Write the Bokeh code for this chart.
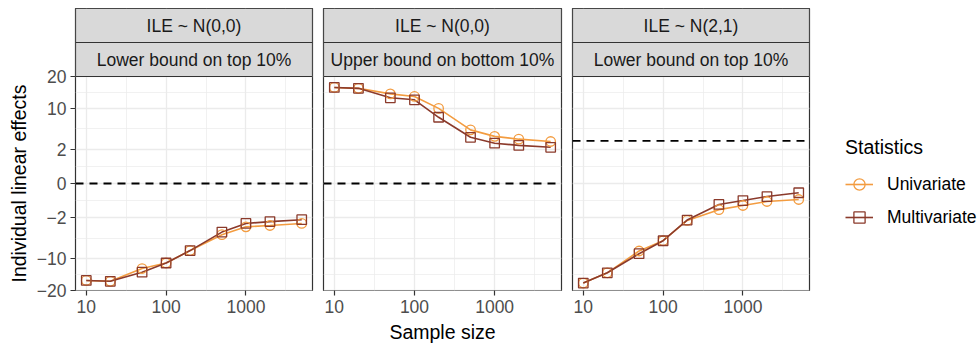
import numpy as np
from bokeh.plotting import figure
from bokeh.layouts import row
from bokeh.models import (Range1d, FixedTicker, CustomJSTickFormatter, Span, Legend,
                          LegendItem, NumeralTickFormatter, BoxAnnotation, Label)
from bokeh.embed import file_html
from bokeh.resources import INLINE

# ---------------- data ----------------
sample_size = [10, 20, 50, 100, 200, 500, 1000, 2000, 5000]

strip_top = ["ILE ~ N(0,0)", "ILE ~ N(0,0)", "ILE ~ N(2,1)"]
strip_bottom = ["Lower bound on top 10%", "Upper bound on bottom 10%", "Lower bound on top 10%"]

uni_panel1 = [-16.5, -16.8, -12.7, -11.1, -7.9, -4.6, -3.3, -3.1, -2.8]
multi_panel1 = [-16.5, -16.8, -13.8, -11.1, -7.9, -4.15, -2.8, -2.55, -2.3]

uni_panel2 = [16.2, 15.9, 14.1, 13.3, 9.9, 5.05, 3.9, 3.45, 3.1]
multi_panel2 = [16.2, 15.9, 12.9, 12.3, 7.7, 3.75, 2.85, 2.55, 2.3]

uni_panel3 = [-17.4, -14.0, -8.0, -5.75, -2.4, -1.2, -0.85, -0.57, -0.45]
multi_panel3 = [-17.4, -14.0, -8.65, -5.75, -2.35, -0.77, -0.51, -0.3, -0.15]

true_value = [0.0, 0.0, 3.2]

series_names = ["Univariate", "Multivariate"]
y_tick_values = [-20, -10, -2, 0, 2, 10, 20]
x_tick_values = [10, 100, 1000]
y_limit = 20.1

uni = [uni_panel1, uni_panel2, uni_panel3]
multi = [multi_panel1, multi_panel2, multi_panel3]

# ---------------- helpers ----------------
def ssqrt(v):
    v = np.asarray(v, dtype=float)
    return np.sign(v) * np.sqrt(np.abs(v))

FONT = "Liberation Sans"
UNI_COL = "#F39C40"
MULTI_COL = "#8B3A2B"
GRID = "#EBEBEB"
DARK = "#333333"

H = 346
TOP = 8           # canvas top to strip top
STRIP_H = 34      # each strip
PANEL_H = 214     # plotting area height
BOTTOM = H - TOP - 2 * STRIP_H - PANEL_H

lx = np.log10(sample_size)
pad = 0.05 * (lx.max() - lx.min())
x_lo, x_hi = 10 ** (lx.min() - pad), 10 ** (lx.max() + pad)
x_mid = 10 ** ((lx.min() + lx.max()) / 2)
y_lim_t = float(np.sqrt(y_limit))
px_per_unit = PANEL_H / (2 * y_lim_t)
strip_u = STRIP_H / px_per_unit
y_top = y_lim_t + 2 * strip_u

yt = ssqrt(y_tick_values)
y_major = [float(v) for v in yt]
y_minor = [float((a + b) / 2) for a, b in zip(yt[:-1], yt[1:])]
x_minor = [10 ** (np.log10(t) + 0.5) for t in x_tick_values]

TITLE_W = 30
ML = [45, 6, 6]
MR = [5, 5, 5]
FRAME_W = [237, 238, 237]
W = [ML[i] + FRAME_W[i] + MR[i] for i in range(3)]
LEG_W = 979 - TITLE_W - sum(W)

figs = []

# y axis title as its own narrow figure (frames are aligned across the row)
tf = figure(width=TITLE_W, height=H, x_range=Range1d(0, TITLE_W),
            y_range=Range1d(-y_lim_t, y_top),
            min_border=0, min_border_top=TOP, min_border_bottom=BOTTOM,
            x_axis_location=None, y_axis_location=None,
            toolbar_location=None, output_backend="svg", outline_line_color=None)
tf.xgrid.visible = False
tf.ygrid.visible = False
tf.add_layout(Label(x=18, y=0, text="Individual linear effects",
                    angle=np.pi / 2, text_align="center", text_baseline="middle",
                    text_font=FONT, text_font_size="19.5px", text_color="black"))
figs.append(tf)

for i in range(3):
    p = figure(width=W[i], height=H, x_axis_type="log",
               x_range=Range1d(x_lo, x_hi), y_range=Range1d(-y_lim_t, y_top),
               min_border_left=ML[i], min_border_right=MR[i], min_border_top=TOP,
               min_border_bottom=BOTTOM, y_axis_location="left" if i == 0 else None,
               toolbar_location=None, output_backend="svg",
               background_fill_color="white", border_fill_color="white",
               outline_line_color=DARK, outline_line_width=1.2)

    p.xgrid.ticker = FixedTicker(ticks=x_tick_values, minor_ticks=x_minor)
    p.ygrid.ticker = FixedTicker(ticks=y_major, minor_ticks=y_minor)
    for g in (p.xgrid, p.ygrid):
        g.grid_line_color = GRID
        g.grid_line_width = 1.3
        g.minor_grid_line_color = GRID
        g.minor_grid_line_width = 0.7

    xa = p.xaxis[0]
    xa.ticker = FixedTicker(ticks=x_tick_values, minor_ticks=x_minor)
    xa.formatter = NumeralTickFormatter(format="0")
    axes = [xa]
    if i == 0:
        ya = p.yaxis[0]
        ya.ticker = FixedTicker(ticks=y_major, minor_ticks=y_minor)
        ya.formatter = CustomJSTickFormatter(code="""
            const v = Math.round(tick * tick);
            return (tick < -1e-9 ? '\\u2212' : '') + v;
        """)
        axes.append(ya)
    xa.axis_label = "Sample size" if i == 1 else " "
    for a in axes:
        a.axis_line_color = None
        a.major_tick_line_color = DARK
        a.major_tick_line_width = 1.2
        a.major_tick_out = 5
        a.major_tick_in = 0
        a.minor_tick_line_color = None
        a.major_label_text_color = "#4D4D4D"
        a.major_label_text_font = FONT
        a.major_label_text_font_size = "17.5px"
        a.major_label_standoff = 4
        a.axis_label_text_font = FONT
        a.axis_label_text_font_size = "19.5px"
        a.axis_label_text_font_style = "normal"
        a.axis_label_text_color = "black"
        a.axis_label_standoff = 5

    p.add_layout(Span(location=float(ssqrt(true_value[i])), dimension="width",
                      line_color="black", line_width=1.8, line_dash="8 6"))

    yu = ssqrt(uni[i])
    ym = ssqrt(multi[i])
    p.line(sample_size, yu, line_color=UNI_COL, line_width=1.6)
    p.line(sample_size, ym, line_color=MULTI_COL, line_width=1.6)
    p.scatter(sample_size, yu, marker="circle", size=9.5, fill_color=None,
              line_color=UNI_COL, line_width=1.3)
    p.scatter(sample_size, ym, marker="square", size=9.5, fill_color=None,
              line_color=MULTI_COL, line_width=1.3)

    # facet strips (inside the frame, above the plotting area)
    p.add_layout(BoxAnnotation(bottom=y_lim_t, fill_color="#D9D9D9", fill_alpha=1,
                               line_color=DARK, line_width=1.2, line_alpha=1))
    p.add_layout(Span(location=y_lim_t + strip_u, dimension="width",
                      line_color=DARK, line_width=1.2))
    p.add_layout(Label(x=x_mid, y=y_lim_t + 1.5 * strip_u, text=strip_top[i],
                       text_align="center", text_baseline="middle", text_font=FONT,
                       text_font_size="17.5px", text_color="#1A1A1A"))
    p.add_layout(Label(x=x_mid, y=y_lim_t + 0.5 * strip_u, text=strip_bottom[i],
                       text_align="center", text_baseline="middle", text_font=FONT,
                       text_font_size="17.5px", text_color="#1A1A1A"))
    figs.append(p)

# legend figure (its own frame is aligned with the panels: bottom at the panel bottom)
lf = figure(width=LEG_W, height=H, x_range=Range1d(0, 1), y_range=Range1d(0, 1),
            min_border=0, min_border_top=TOP, min_border_bottom=BOTTOM,
            x_axis_location=None, y_axis_location=None,
            toolbar_location=None, output_backend="svg", outline_line_color=None)
lf.xgrid.visible = False
lf.ygrid.visible = False
off = [-5.0, -4.0]  # keys only: drawn outside the visible range
llu = lf.line(off, off, line_color=UNI_COL, line_width=1.6)
lsu = lf.scatter(off, off, marker="circle", size=9.5, fill_color=None,
                 line_color=UNI_COL, line_width=1.3)
llm = lf.line(off, off, line_color=MULTI_COL, line_width=1.6)
lsm = lf.scatter(off, off, marker="square", size=9.5, fill_color=None,
                 line_color=MULTI_COL, line_width=1.3)
legend = Legend(items=[LegendItem(label=series_names[0], renderers=[llu, lsu]),
                       LegendItem(label=series_names[1], renderers=[llm, lsm])],
                title="Statistics", location=(31, 59),
                padding=0, margin=0, spacing=5, glyph_width=28, glyph_height=28,
                label_height=28, label_standoff=14, title_standoff=11,
                label_text_font=FONT, label_text_font_size="17.5px",
                label_text_color="black", title_text_font=FONT,
                title_text_font_size="19.5px", title_text_font_style="normal",
                title_text_color="black", border_line_color=None,
                background_fill_alpha=0)
lf.add_layout(legend, "center")
figs.append(lf)

layout = row(*figs, spacing=0)

open("out.html", "w").write(file_html(layout, INLINE))
